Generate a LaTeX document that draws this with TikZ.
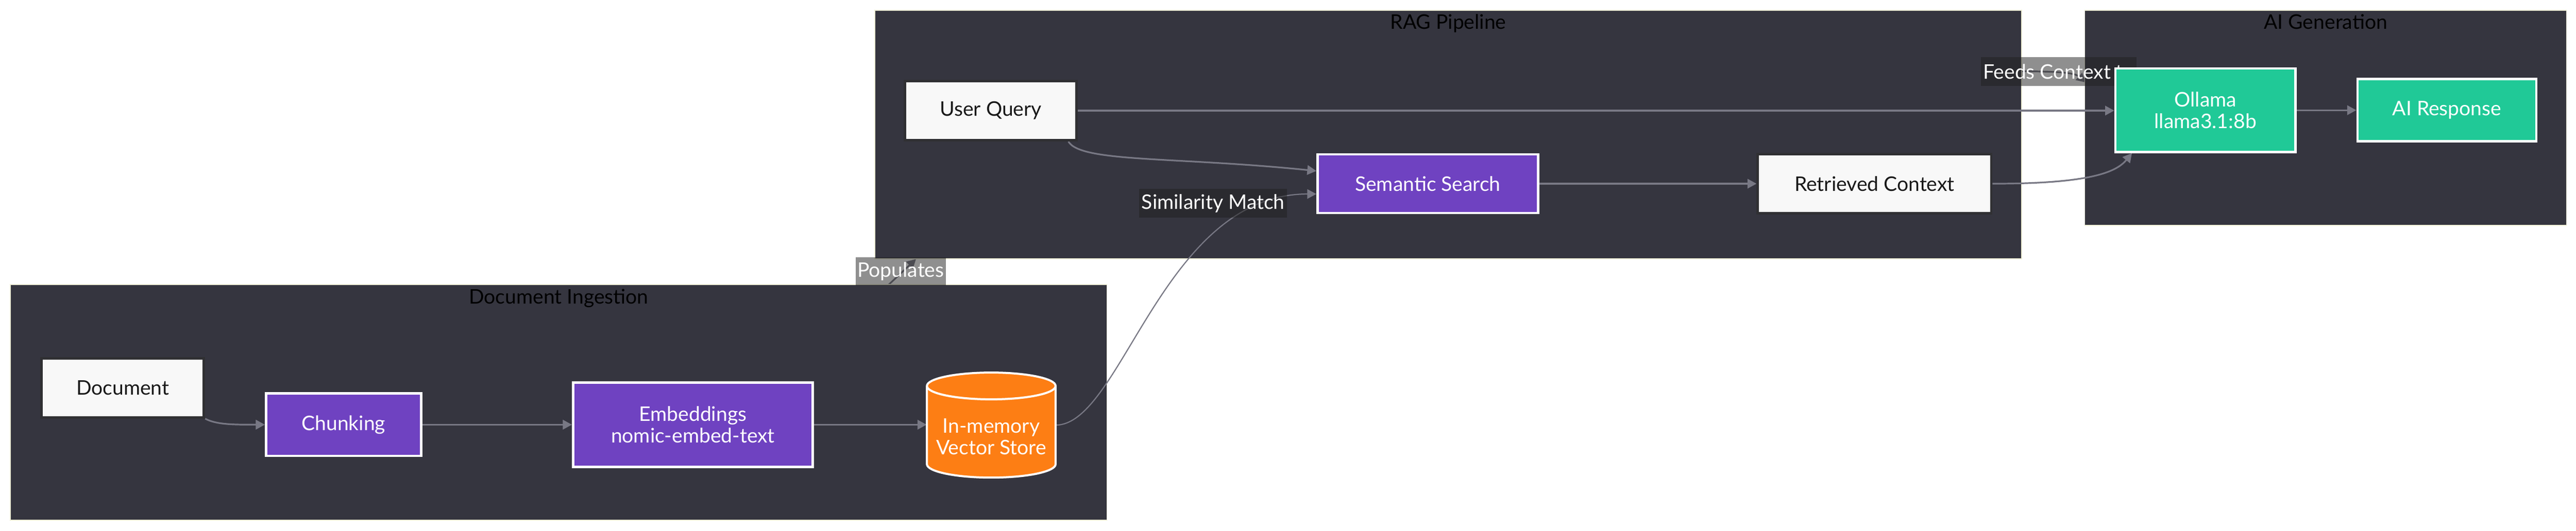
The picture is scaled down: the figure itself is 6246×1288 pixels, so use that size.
\documentclass[tikz,border=0pt]{standalone}
\usepackage{fontspec}
\setmainfont{Lato}
\usetikzlibrary{arrows.meta}
\pgfdeclarelayer{pre}
\pgfdeclarelayer{bg}
\pgfdeclarelayer{edges}
\pgfdeclarelayer{lbl}
\pgfsetlayers{pre,bg,edges,lbl,main}
\definecolor{clfill}{HTML}{35353F}
\definecolor{clline}{HTML}{F0F0D8}
\definecolor{edgecol}{HTML}{787884}
\definecolor{purp}{HTML}{6F42C1}
\definecolor{grn}{HTML}{20C997}
\definecolor{orng}{HTML}{FD7E14}
\definecolor{wfill}{HTML}{F8F8F8}
\definecolor{wline}{HTML}{303033}
\definecolor{lblbg}{HTML}{202020}
\begin{document}
\begin{tikzpicture}[x=0.25pt,y=0.25pt,
  txt/.style={font=\fontsize{12.2}{13.25}\selectfont, align=center, inner sep=0pt},
  cluster/.style={draw=clline, line width=0.5pt, fill=clfill, inner sep=0pt},
  ctitle/.style={txt, text=black, anchor=base},
  wbox/.style={txt, draw=wline, line width=1.5pt, fill=wfill, text=black!90},
  pbox/.style={txt, draw=white, line width=1.4pt, fill=purp, text=white},
  gbox/.style={txt, draw=white, line width=1.4pt, fill=grn, text=white},
  cylbox/.style={txt, text=white},
  elabel/.style={txt, fill=lblbg, fill opacity=0.5, text opacity=1, text=white},
  edge/.style={draw=edgecol, line width=1pt, -{Triangle[length=5.5pt,width=5.75pt]}},
  thinedge/.style={edge, line width=0.7pt}
]
\useasboundingbox (0,0) rectangle (6246,-1288);
\begin{pgfonlayer}{pre}
\fill[white] (0,0) rectangle (6246,-1288);
\end{pgfonlayer}

% ---------- nodes ----------
\node[wbox, minimum width=104pt, minimum height=36pt] (uq) at (2402.5,-268.5) {User Query};
\node[pbox, minimum width=133.75pt, minimum height=35.5pt] (sem) at (3462,-446) {Semantic Search};
\node[wbox, minimum width=141.5pt, minimum height=36pt] (ret) at (4545,-446) {Retrieved Context};
\node[gbox, minimum width=109.25pt, minimum height=50.75pt] (oll) at (5347.5,-267.5) {Ollama\\llama3.1:8b};
\node[gbox, minimum width=108.5pt, minimum height=37.75pt] (air) at (5933,-267.5) {AI Response};
\node[wbox, minimum width=98.5pt, minimum height=35.75pt] (doc) at (297.5,-942) {Document};
\node[pbox, minimum width=94pt, minimum height=38pt] (chunk) at (833,-1031) {Chunking};
\node[pbox, minimum width=145.25pt, minimum height=51.25pt] (emb) at (1680,-1031) {Embeddings\\nomic-embed-text};
% cylinder
\filldraw[fill=orng, draw=white, line width=1.25pt]
  (2247.5,-937) -- (2247.5,-1127) arc[start angle=180, end angle=360, x radius=156, y radius=32.5]
  -- (2559.5,-937) arc[start angle=0, end angle=180, x radius=156, y radius=32.5] -- cycle;
\draw[draw=white, line width=1.25pt] (2247.5,-937) arc[start angle=180, end angle=360, x radius=156, y radius=32.5];
\node[cylbox, minimum width=78pt] (vs) at (2403.5,-1060) {In-memory\\Vector Store};

% ---------- clusters ----------
\begin{pgfonlayer}{bg}
\node[cluster, minimum width=664.75pt, minimum height=143pt] (ing) at (1354.5,-977) {};
\node[ctitle] (ingt) at (1354.5,-738) {Document Ingestion};
\node[cluster, minimum width=695.25pt, minimum height=150.75pt] (rag) at (3511.5,-326.5) {};
\node[ctitle] (ragt) at (3511.5,-71) {RAG Pipeline};
\node[cluster, minimum width=292pt, minimum height=130.5pt] (gen) at (5639,-286) {};
\node[ctitle] (gent) at (5639,-71) {AI Generation};
\end{pgfonlayer}

% ---------- cluster-to-cluster links (behind clusters) ----------
\begin{pgfonlayer}{pre}
\coordinate (pa) at (2140,-705);
\coordinate (pb) at (2221,-629);
\draw[edge] (pa) -- (pb);
\coordinate (fa) at (4880,-173);
\coordinate (fb) at (5057,-200);
\draw[edge] (fa) .. controls (4990,-173) and (5030,-176) .. (fb);
\end{pgfonlayer}

% ---------- edges ----------
\begin{pgfonlayer}{edges}
\draw[edge] (doc.south east) .. controls (525,-1031) and (565,-1031) .. (chunk.west);
\draw[edge] (chunk.east) -- (emb.west);
\draw[edge] (emb.east) -- (emb.east -| vs.west);
\draw[thinedge] ([yshift=7pt]vs.east) .. controls (2720,-1031) and (2820,-471) .. ([yshift=-6.25pt]sem.west);
\draw[edge] ([xshift=-5.75pt]uq.south east) .. controls (2620,-395) and (2850,-380) .. ([yshift=7.75pt]sem.west);
\draw[edge] (sem.east) -- (ret.west);
\draw[edge] (uq.east) -- (uq.east -| oll.west);
\draw[edge] (ret.east) .. controls (5060,-446) and (5130,-420) .. ([xshift=10.75pt]oll.south west);
\draw[edge] (oll.east) -- (air.west);
\end{pgfonlayer}

% ---------- edge labels ----------
\begin{pgfonlayer}{lbl}
\node[elabel, minimum width=54.5pt, minimum height=17pt] (lpop) at (2184,-659) {Populates};
\node[elabel, minimum width=89.75pt, minimum height=17.25pt] (lsim) at (2941.5,-493.5) {Similarity Match};
\node[elabel, minimum width=94.5pt, minimum height=17.25pt] (lfeed) at (4992,-173.5) {Feeds Context to};
\end{pgfonlayer}
\end{tikzpicture}
\end{document}
